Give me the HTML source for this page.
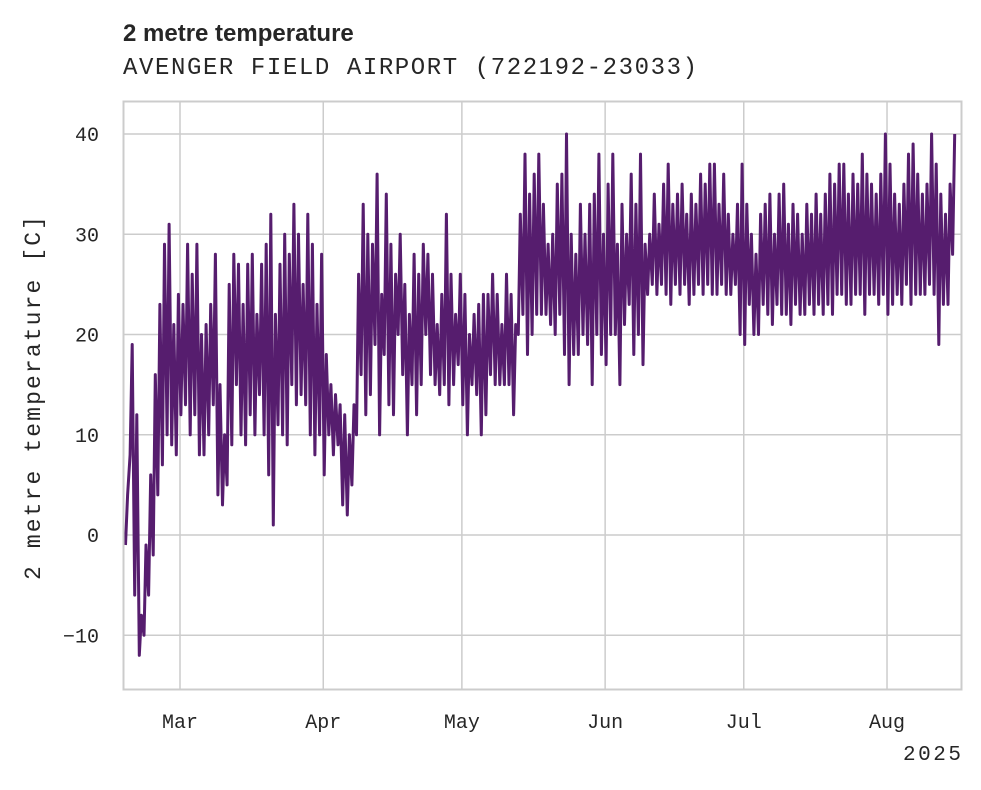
<!DOCTYPE html>
<html><head><meta charset="utf-8"><style>
body{margin:0;background:#fff}
svg text{fill:#262626}
</style></head><body>
<svg id="chart" width="981" height="785" xmlns="http://www.w3.org/2000/svg">
<text x="123" y="41" font-family="Liberation Sans, sans-serif" font-weight="bold" font-size="24">2 metre temperature</text>
<text x="123" y="74" font-family="Liberation Mono, monospace" font-size="24" textLength="574">AVENGER FIELD AIRPORT (722192-23033)</text>
<g id="grid"></g>
<g id="series"></g>
<rect x="123.5" y="101.5" width="838" height="588" fill="none" stroke="#ccc" stroke-width="2"/>
<g id="axes" font-family="Liberation Mono, monospace" font-size="20"></g>
<text transform="translate(40,398) rotate(-90)" text-anchor="middle" font-family="Liberation Mono, monospace" font-size="23" textLength="364">2 metre temperature [C]</text>
<text x="961" y="760" text-anchor="end" font-family="Liberation Mono, monospace" font-size="21" textLength="58">2025</text>
</svg>
<script>
const yTicks=[-10,0,10,20,30,40];
const xTickLabels=["Mar","Apr","May","Jun","Jul","Aug"];
const xTickDays=[0,31,61,92,122,153];
const startDay=-12;
const dailyMax=[4,19,12,-8,-1,6,16,23,29,31,21,24,23,29,26,29,20,21,23,28,15,10,25,28,27,23,27,28,22,27,29,32,22,27,30,28,33,30,25,32,29,23,28,18,15,14,13,12,10,13,26,33,30,29,36,24,34,29,26,30,25,22,28,26,29,28,26,21,24,32,26,22,26,24,20,22,23,24,24,26,24,21,26,24,21,32,38,34,36,38,33,29,30,35,36,40,30,28,33,30,33,34,38,30,35,38,29,33,30,36,33,38,29,30,34,31,35,37,33,34,35,32,34,33,36,35,37,37,33,36,32,30,33,37,33,30,28,32,33,34,30,34,35,31,33,32,30,33,32,34,32,34,36,35,37,37,34,36,35,38,36,35,34,36,40,37,34,33,35,38,39,36,34,35,40,37,34,32,35,40];
const dailyMin=[-1,8,-6,-12,-10,-6,-2,4,7,10,9,8,12,13,10,12,8,8,10,13,4,3,5,9,15,10,9,12,10,14,10,6,1,11,10,9,15,13,14,13,10,8,10,6,10,8,9,3,2,5,10,16,12,14,19,10,18,13,12,20,16,10,15,12,15,20,16,15,14,15,13,15,17,13,10,15,14,10,12,16,15,15,15,15,12,20,22,18,20,22,22,22,21,20,22,18,15,18,18,20,19,15,20,18,17,20,20,15,21,23,18,20,17,24,25,24,25,24,23,25,24,25,23,24,25,24,25,24,24,25,24,24,25,20,19,23,20,20,23,22,21,23,22,22,21,23,22,22,23,22,23,22,23,22,24,24,23,23,24,24,22,24,24,23,24,22,23,24,23,25,23,24,24,24,25,24,19,23,23,28];
const X=d=>180+d*4.621;
const Y=v=>535-v*10.025;
const ns="http://www.w3.org/2000/svg";
const grid=document.getElementById('grid'),axes=document.getElementById('axes'),series=document.getElementById('series');
yTicks.forEach(v=>{
 const l=document.createElementNS(ns,'line');
 
 
 l.setAttribute('x1',123);l.setAttribute('x2',961);l.setAttribute('y1',Y(v));l.setAttribute('y2',Y(v));
 l.setAttribute('stroke','#ccc');l.setAttribute('stroke-width','1.5');grid.appendChild(l);
 const t=document.createElementNS(ns,'text');
 
 
 t.setAttribute('x',99);t.setAttribute('y',Y(v)+7);t.setAttribute('text-anchor','end');
 t.textContent=v<0?'\u2212'+(-v):String(v);axes.appendChild(t);
});
xTickDays.forEach((d,i)=>{
 const l=document.createElementNS(ns,'line');
 
 
 l.setAttribute('x1',X(d));l.setAttribute('x2',X(d));l.setAttribute('y1',101);l.setAttribute('y2',689);
 l.setAttribute('stroke','#ccc');l.setAttribute('stroke-width','1.5');grid.appendChild(l);
 const t=document.createElementNS(ns,'text');
 
 
 t.setAttribute('x',X(d));t.setAttribute('y',728);t.setAttribute('text-anchor','middle');
 t.textContent=xTickLabels[i];axes.appendChild(t);
});
let pts=[];
dailyMax.forEach((mx,i)=>{
 const d=startDay+i;
 pts.push(X(d+0.2).toFixed(1)+','+Y(dailyMin[i]).toFixed(1));
 pts.push(X(d+0.65).toFixed(1)+','+Y(mx).toFixed(1));
});
const p=document.createElementNS(ns,'polyline');


p.setAttribute('points',pts.join(' '));
p.setAttribute('fill','none');p.setAttribute('stroke','#561d6e');p.setAttribute('stroke-width','3');p.setAttribute('stroke-linejoin','round');
series.appendChild(p);
</script>
</body></html>
